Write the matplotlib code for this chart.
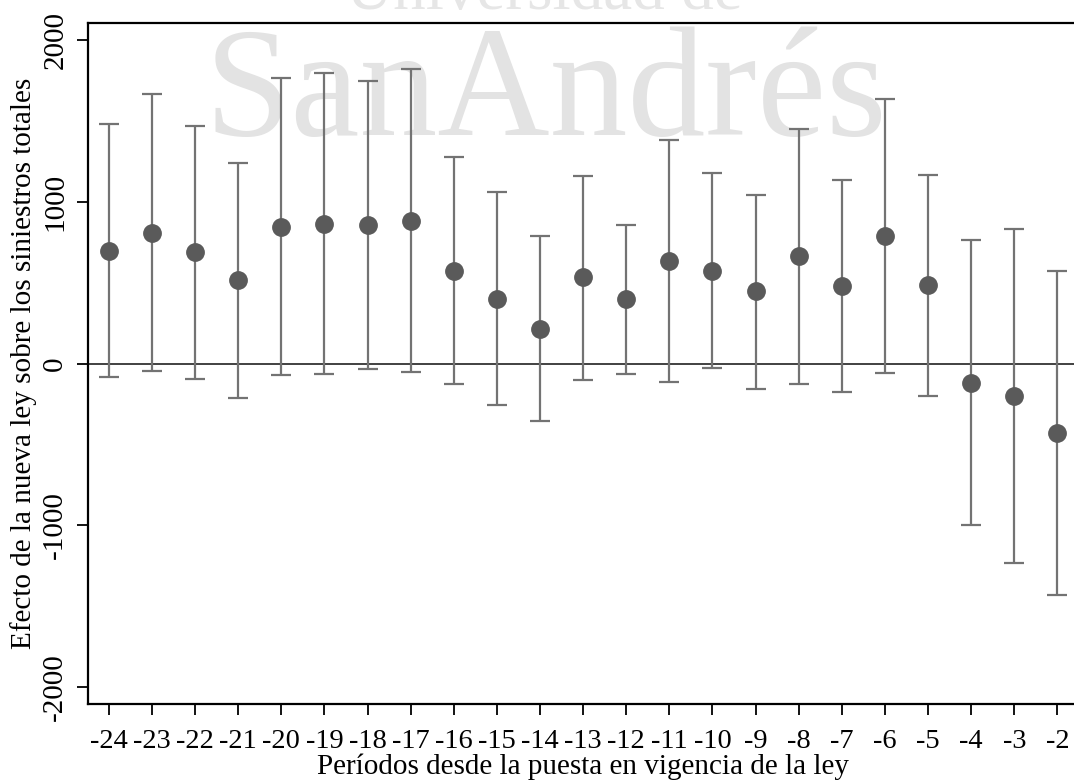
import numpy as np
import matplotlib
matplotlib.use("Agg")
import matplotlib.pyplot as plt

periods = np.arange(-24, -1)
coef = [698, 811, 691, 516, 844, 865, 859, 881, 572, 399, 213, 535, 399,
        634, 576, 447, 663, 481, 788, 485, -119, -202, -428]
ci_hi = [1481, 1667, 1471, 1240, 1764, 1795, 1749, 1821, 1277, 1061, 788, 1160, 857,
         1384, 1180, 1046, 1450, 1139, 1636, 1166, 764, 836, 574]
ci_lo = [-83, -47, -92, -212, -72, -62, -31, -54, -126, -258, -357, -103, -62,
         -113, -29, -157, -124, -177, -60, -199, -999, -1236, -1430]
yticks = [-2000, -1000, 0, 1000, 2000]

FONT = "Liberation Serif"

coef = np.array(coef); ci_hi = np.array(ci_hi); ci_lo = np.array(ci_lo)
err = np.vstack([coef - ci_lo, ci_hi - coef])

fig = plt.figure(figsize=(10.74, 7.83), dpi=100)
ax = fig.add_axes([0.0817, 0.1009, 0.9229, 0.8693])
ax.patch.set_alpha(0)

# watermark behind the axes
fig.text(0.507, 0.9885, "Universidad de", family=FONT, fontsize=47, color="#e6e6e6",
         ha="center", va="baseline", zorder=-1)
fig.text(0.508, 0.828, "SanAndrés", family=FONT, fontsize=112, color="#e3e3e3",
         ha="center", va="baseline", zorder=-1)

ax.axhline(0, color="#333333", lw=1.3, zorder=1)
ax.errorbar(periods, coef, yerr=err, fmt="o", color="#5a5a5a", ms=12.5,
            ecolor="#737373", elinewidth=1.6, capsize=7, capthick=1.6, zorder=3)

ax.set_xlim(-24.49, -1.5)
ax.set_ylim(-2105, 2105)
ax.set_xticks(periods)
ax.set_xticklabels([str(p) for p in periods], family=FONT, fontsize=20.5)
ax.set_yticks(yticks)
ax.set_yticklabels([str(v) for v in yticks], family=FONT, fontsize=21,
                   rotation=90, va="center")
ax.tick_params(axis="both", length=8, width=1.3, color="black")
ax.tick_params(axis="x", pad=10)
ax.tick_params(axis="y", pad=6)

for s in ["left", "bottom", "top"]:
    ax.spines[s].set_linewidth(1.6)
ax.spines["right"].set_visible(False)

ax.set_xlabel("Períodos desde la puesta en vigencia de la ley", family=FONT,
              fontsize=21, labelpad=0)
ax.set_ylabel("Efecto de la nueva ley sobre los siniestros totales", family=FONT,
              fontsize=21, labelpad=4)

fig.savefig("out.png", dpi=100)
